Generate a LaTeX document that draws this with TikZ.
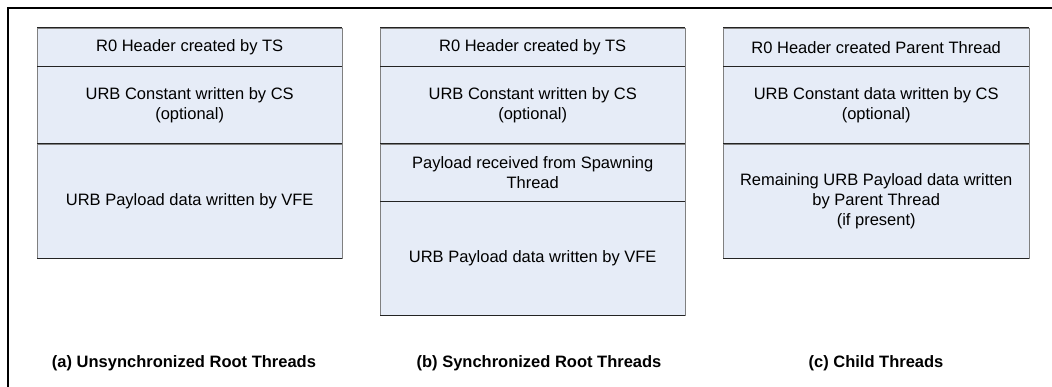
\documentclass[tikz,border=0pt]{standalone}
\usepackage{fontspec}
\setmainfont{Liberation Sans}
\usepackage{xcolor}
\usepackage{tikz}
\usetikzlibrary{positioning}
\definecolor{UrbFill}{RGB}{230,236,247}
\definecolor{UrbEdge}{RGB}{128,128,128}
\definecolor{UrbLine}{RGB}{35,35,35}
\tikzset{
  urbcell/.style={draw=UrbEdge, fill=UrbFill, minimum width=305pt, inner sep=0pt,
    align=center, font=\fontsize{16.5}{20}\selectfont},
  hdrcell/.style={urbcell, minimum height=38pt},
  cstcell/.style={urbcell, minimum height=77pt},
  spwcell/.style={urbcell, minimum height=57pt},
  paycell/.style={urbcell, minimum height=114pt},
  seam/.style={UrbLine, line width=1pt},
  caption/.style={font=\fontsize{16.5}{20}\selectfont\bfseries},
}

\begin{document}
\begin{tikzpicture}[x=1pt, y=-1pt]
  \useasboundingbox (0,0) rectangle (1052,387);
  \draw[line width=2pt] (8,387) -- (8,8) -- (1052,8);
  % (a) unsynchronized
  \node[hdrcell, anchor=north west] (a0) at (37,28) {R0 Header created by TS};
  \node[cstcell, below=0pt of a0] (a1) {URB Constant written by CS\\(optional)};
  \node[paycell, below=0pt of a1] (a2) {URB Payload data written by VFE};
  % (b) synchronized
  \node[hdrcell, anchor=north west] (b0) at (380,28) {R0 Header created by TS};
  \node[cstcell, below=0pt of b0] (b1) {URB Constant written by CS\\(optional)};
  \node[spwcell, below=0pt of b1] (b2) {Payload received from Spawning\\Thread};
  \node[paycell, below=0pt of b2] (b3) {URB Payload data written by VFE};
  % (c) child
  \node[hdrcell, anchor=north west, minimum width=306pt] (c0) at (723,28) {R0 Header created Parent Thread};
  \node[cstcell, below=0pt of c0, minimum width=306pt] (c1) {URB Constant data written by CS\\(optional)};
  \node[paycell, below=0pt of c1, minimum width=306pt] (c2) {Remaining URB Payload data written\\by Parent Thread\\(if present)};
  \foreach \n in {a0,a1,a2,b0,b1,b2,b3,c0,c1,c2}
    \draw[seam] (\n.north west) -- (\n.north east) (\n.south west) -- (\n.south east);
  \node[caption] (capa) at (184,363) {(a) Unsynchronized Root Threads};
  \node[caption] (capb) at (539,363) {(b) Synchronized Root Threads};
  \node[caption] (capc) at (876,363) {(c) Child Threads};
\end{tikzpicture}
\end{document}
